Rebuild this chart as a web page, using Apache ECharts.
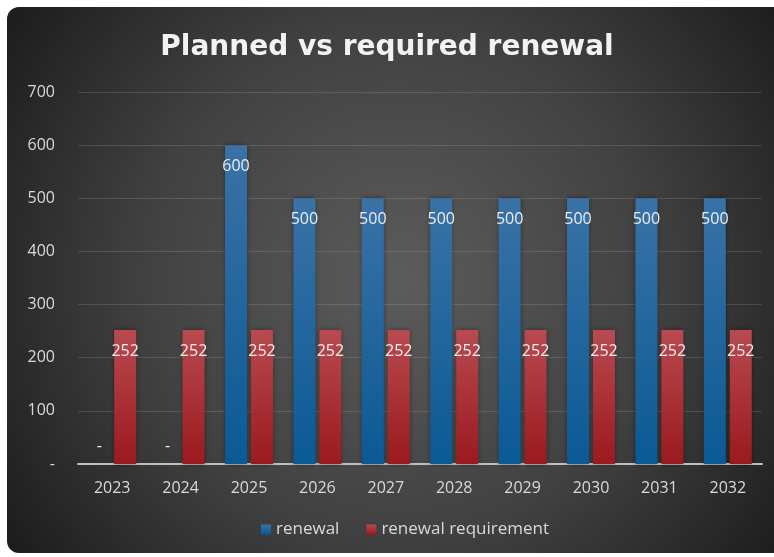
<!DOCTYPE html>
<html>
<head>
<meta charset="utf-8">
<style>
html,body{margin:0;padding:0;background:#ffffff;}
#chart{width:774px;height:557px;}
</style>
<script src="https://cdn.jsdelivr.net/npm/echarts@6/dist/echarts.min.js"></script>
</head>
<body>
<div id="chart"></div>
<script>
const categories = ['2023','2024','2025','2026','2027','2028','2029','2030','2031','2032'];
const renewal = [0, 0, 600, 500, 500, 500, 500, 500, 500, 500];
const renewalRequirement = [252, 252, 252, 252, 252, 252, 252, 252, 252, 252];
const seriesNames = ['renewal', 'renewal requirement'];

const FONT = '"Open Sans", "Noto Sans", sans-serif';
const chart = echarts.init(document.getElementById('chart'), null, {renderer:'canvas'});

function toData(arr){
  return arr.map(v => v === 0 ? {value:v, label:{position:'top', distance:10},
    itemStyle:{color:'rgba(0,0,0,0)', shadowBlur:0, shadowColor:'rgba(0,0,0,0)'}} : v);
}
const labelCfg = {
  show:true, position:'insideTop', distance:13,
  color:'#eeeeee', fontFamily:FONT, fontSize:16,
  formatter: p => p.value === 0 ? '-' : String(p.value)
};

chart.setOption({
  animation:false,
  graphic:[{
    type:'rect', left:7, top:7, z:-10, silent:true,
    shape:{width:785, height:546, r:12},
    style:{fill:{type:'radial', x:0.5, y:0.5, r:0.85,
      colorStops:[{offset:0,color:'#5c5c5c'},{offset:0.55,color:'#414141'},{offset:1,color:'#1e1e1e'}]}}
  }],
  title:{
    text:'Planned vs required renewal', left:'center', top:29,
    textStyle:{color:'#f2f2f2', fontFamily:'"DejaVu Sans", sans-serif', fontWeight:'bold', fontSize:28}
  },
  legend:{
    data:seriesNames, bottom:14, left:256, itemWidth:10, itemHeight:10, itemGap:27,
    icon:'rect',
    textStyle:{color:'#d9d9d9', fontFamily:FONT, fontSize:17}
  },
  grid:{left:78, right:12, top:92, bottom:93},
  xAxis:{
    type:'category', data:categories,
    axisLine:{lineStyle:{color:'#bfbfbf', width:2}},
    axisTick:{show:false},
    axisLabel:{color:'#d9d9d9', fontFamily:FONT, fontSize:16, margin:16}
  },
  yAxis:{
    type:'value', min:0, max:700, interval:100,
    axisLine:{show:false}, axisTick:{show:false},
    splitLine:{lineStyle:{color:'rgba(255,255,255,0.13)', width:1}},
    axisLabel:{color:'#d9d9d9', fontFamily:FONT, fontSize:16, margin:23,
      formatter: v => v === 0 ? '-' : String(v)}
  },
  series:[
    {
      name:seriesNames[0], type:'bar', data:toData(renewal),
      barWidth:22, barGap:'18%',
      itemStyle:{color:{type:'linear',x:0,y:0,x2:0,y2:1,colorStops:[{offset:0,color:'#3a72a6'},{offset:1,color:'#0a5a96'}]},
        shadowBlur:5, shadowColor:'rgba(0,0,0,0.45)'},
      label:labelCfg
    },
    {
      name:seriesNames[1], type:'bar', data:toData(renewalRequirement),
      barWidth:22,
      itemStyle:{color:{type:'linear',x:0,y:0,x2:0,y2:1,colorStops:[{offset:0,color:'#b84a50'},{offset:1,color:'#9a1a1f'}]},
        shadowBlur:5, shadowColor:'rgba(0,0,0,0.45)'},
      label:labelCfg
    }
  ]
});
</script>
</body>
</html>
